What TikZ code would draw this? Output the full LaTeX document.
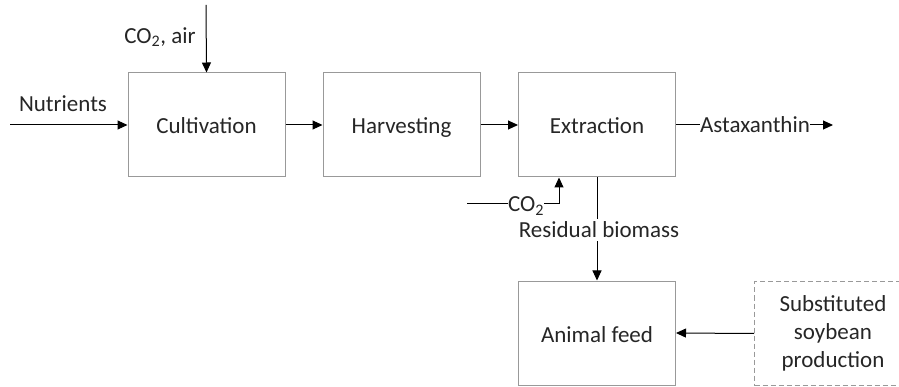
\documentclass[tikz,border=0pt]{standalone}
\usepackage{fontspec}
\setmainfont{Carlito}
\usetikzlibrary{arrows.meta,positioning}
\begin{document}
\begin{tikzpicture}[x=1pt,y=-1pt,
  every node/.style={font=\fontsize{23}{26}\selectfont, text=black!85},
  procbox/.style={draw=black!40, line width=1pt, minimum width=157pt, minimum height=104pt, inner sep=0pt, fill=white, text height=20pt, text depth=2pt},
  dashbox/.style={draw=black!40, dash pattern=on 5pt off 3pt, line width=1pt, minimum width=157pt, minimum height=104pt, inner sep=0pt, align=center},
  flow/.style={draw=black, line width=1pt, -{Triangle[length=10pt,width=9pt]}},
  plain/.style={draw=black, line width=1pt},
  lbl/.style={inner sep=1pt}
]
\useasboundingbox (0,0) rectangle (899,387);
\node[procbox] (cult) at (206.5,125) {Cultivation};
\node[procbox] (harv) at (401.5,125) {Harvesting};
\node[procbox] (extr) at (597,125) {Extraction};
\node[procbox] (feed) at (597,333) {Animal feed};
\node[dashbox, anchor=west] (soy) at (754,333.5) {Substituted\\[2pt]soybean\\[2pt]production};

\coordinate (nutin) at (10,125);
\node[lbl] (nutl) at (63,104) {Nutrients};
\draw[flow] (nutin) -- (cult.west);

\coordinate (airin) at (206,5);
\node[lbl] (airl) at (160,37) {CO\textsubscript{2}, air};
\draw[flow] (airin) -- (cult.north);

\draw[flow] (cult.east) -- (harv.west);
\draw[flow] (harv.east) -- (extr.west);

\node[lbl, inner sep=0pt] (asta) at (755,125) {Astaxanthin};
\coordinate (astaout) at (833,125);
\draw[plain] (extr.east) -- (asta.west);
\draw[flow] (asta.east) -- (astaout);

\coordinate (co2in) at (467,204);
\node[lbl, inner sep=0pt] (co2l) at (526,206) {CO\textsubscript{2}};
\coordinate (co2corner) at (559,204);
\draw[plain] (co2in) -- (co2l.west |- co2in);
\draw[flow] (co2l.east |- co2in) -- (co2corner) -- (co2corner |- extr.south);

\node[lbl, inner sep=3pt] (resl) at (599,230) {Residual biomass};
\draw[plain] (extr.south) -- (extr.south |- resl.north);
\draw[flow] (extr.south |- resl.south) -- (feed.north);

\draw[flow] (soy.west) -- (feed.east);
\end{tikzpicture}
\end{document}
